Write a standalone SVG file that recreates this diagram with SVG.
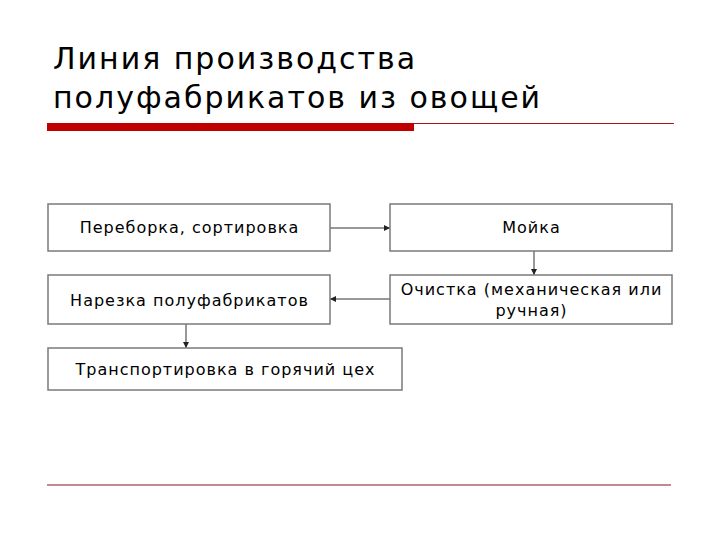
<svg xmlns="http://www.w3.org/2000/svg" width="720" height="540" viewBox="0 0 720 540">
<style>
.t{font-family:"DejaVu Sans",Verdana,sans-serif;fill:#000}
.title{font-size:30px;letter-spacing:2px}
.lbl{font-size:16px;text-anchor:middle;letter-spacing:1px}
.box{fill:#fff;stroke:#7a7a7a;stroke-width:1.5}
.con{stroke:#333;stroke-width:1;fill:none;marker-end:url(#ah)}
</style>
<defs>
<marker id="ah" viewBox="0 0 6 6" refX="6" refY="3" markerWidth="6" markerHeight="6" orient="auto" markerUnits="userSpaceOnUse">
<path d="M0,0 L6,3 L0,6 z" fill="#222"/>
</marker>
</defs>
<rect width="720" height="540" fill="#fff"/>
<g id="title">
<text class="t title" x="53" y="69">Линия производства</text>
<text class="t title" x="53" y="108">полуфабрикатов из овощей</text>
</g>
<g id="rules">
<rect x="47" y="123" width="367" height="8" fill="#c00000"/>
<line x1="414" y1="123.5" x2="674" y2="123.5" stroke="#a01818" stroke-width="1"/>
<line x1="47" y1="485" x2="671" y2="485" stroke="#c08a90" stroke-width="2"/>
</g>
<g id="connectors">
<line class="con" x1="330" y1="228" x2="390" y2="228"/>
<line class="con" x1="534" y1="251" x2="534" y2="275"/>
<line class="con" x1="390" y1="299" x2="330" y2="299"/>
<line class="con" x1="186" y1="324" x2="186" y2="348"/>
</g>
<g id="n1">
<rect class="box" x="48" y="204" width="282" height="47"/>
<text class="t lbl" x="189.5" y="233">Переборка, сортировка</text>
</g>
<g id="n2">
<rect class="box" x="390" y="204" width="282" height="47"/>
<text class="t lbl" x="531.5" y="233">Мойка</text>
</g>
<g id="n3">
<rect class="box" x="390" y="275" width="282" height="49"/>
<text class="t lbl" x="531.5" y="295">Очистка (механическая или</text>
<text class="t lbl" x="531.5" y="316">ручная)</text>
</g>
<g id="n4">
<rect class="box" x="48" y="275" width="282" height="49"/>
<text class="t lbl" x="189.5" y="306">Нарезка полуфабрикатов</text>
</g>
<g id="n5">
<rect class="box" x="48" y="348" width="354" height="42"/>
<text class="t lbl" x="225.5" y="375">Транспортировка в горячий цех</text>
</g>
</svg>
